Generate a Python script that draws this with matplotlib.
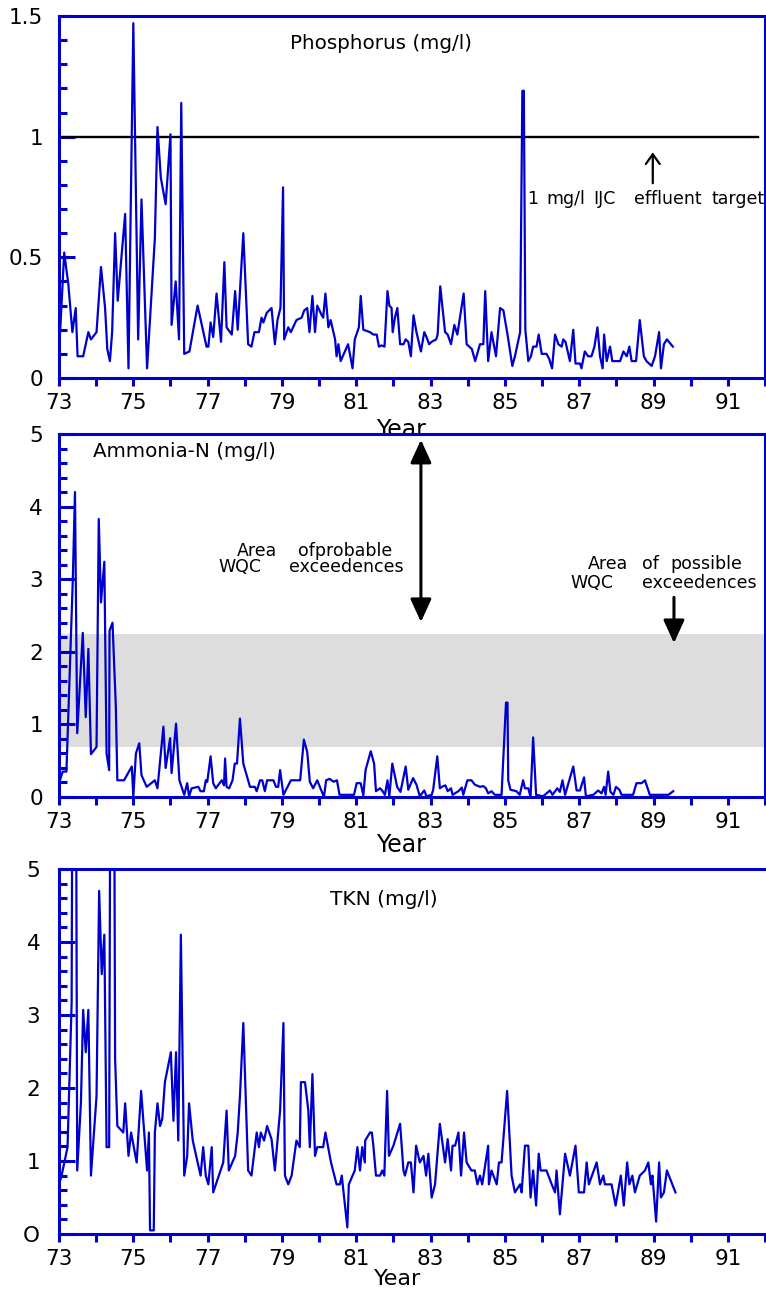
import matplotlib
matplotlib.use('Agg')
import matplotlib.pyplot as plt
from matplotlib.ticker import MultipleLocator
from matplotlib.transforms import Affine2D

plt.rcParams['font.family'] = ['DejaVu Sans']

# ---------------- data ----------------
x_ticks = list(range(73, 93))
x_ticklabels = [str(v) if v % 2 == 1 else '' for v in x_ticks]

p_year = [73.03, 73.14, 73.25, 73.36, 73.45, 73.50, 73.65, 73.79, 73.86, 74.01, 74.13, 74.24,
          74.30, 74.37, 74.43, 74.51, 74.58, 74.78, 74.87, 75.00, 75.13, 75.22, 75.37, 75.58,
          75.65, 75.74, 75.87, 76.00, 76.03, 76.14, 76.23, 76.29, 76.37, 76.51, 76.73, 76.97,
          77.02, 77.08, 77.15, 77.24, 77.36, 77.45, 77.51, 77.65, 77.74, 77.81, 77.96, 78.09,
          78.18, 78.26, 78.38, 78.45, 78.50, 78.59, 78.72, 78.81, 78.88, 78.96, 79.03, 79.06,
          79.17, 79.24, 79.39, 79.53, 79.60, 79.68, 79.74, 79.82, 79.89, 79.95, 80.07, 80.11,
          80.17, 80.25, 80.31, 80.43, 80.47, 80.52, 80.58, 80.78, 80.90, 80.96, 81.07, 81.12,
          81.19, 81.37, 81.46, 81.55, 81.61, 81.68, 81.76, 81.84, 81.89, 81.95, 81.98, 82.04,
          82.105, 82.18, 82.27, 82.33, 82.40, 82.47, 82.54, 82.62, 82.74, 82.83, 82.89, 82.96,
          83.03, 83.15, 83.19, 83.26, 83.39, 83.46, 83.55, 83.64, 83.72, 83.89, 83.97, 84.11,
          84.20, 84.33, 84.42, 84.47, 84.55, 84.64, 84.76, 84.87, 84.96, 85.07, 85.20, 85.27,
          85.41, 85.47, 85.51, 85.55, 85.63, 85.70, 85.76, 85.85, 85.91, 85.99, 86.12, 86.19,
          86.27, 86.35, 86.44, 86.53, 86.57, 86.63, 86.75, 86.84, 86.90, 87.02, 87.06, 87.15,
          87.24, 87.33, 87.41, 87.49, 87.56, 87.63, 87.67, 87.74, 87.83, 87.89, 88.10, 88.19,
          88.28, 88.35, 88.41, 88.53, 88.63, 88.74, 88.81, 88.95, 89.04, 89.15, 89.20, 89.28,
          89.36, 89.52]
p_val = [0.19, 0.52, 0.39, 0.19, 0.29, 0.09, 0.09, 0.19, 0.16, 0.19, 0.46, 0.29,
         0.12, 0.07, 0.19, 0.60, 0.32, 0.68, 0.04, 1.47, 0.16, 0.74, 0.04, 0.58,
         1.04, 0.83, 0.72, 1.01, 0.22, 0.40, 0.16, 1.14, 0.10, 0.11, 0.30, 0.13,
         0.13, 0.23, 0.17, 0.35, 0.15, 0.48, 0.21, 0.18, 0.36, 0.20, 0.60, 0.14,
         0.13, 0.19, 0.19, 0.25, 0.23, 0.27, 0.29, 0.14, 0.24, 0.29, 0.79, 0.16,
         0.21, 0.19, 0.24, 0.25, 0.28, 0.29, 0.19, 0.34, 0.19, 0.30, 0.26, 0.25,
         0.35, 0.21, 0.24, 0.16, 0.09, 0.14, 0.07, 0.14, 0.04, 0.16, 0.21, 0.34,
         0.20, 0.19, 0.18, 0.18, 0.13, 0.135, 0.13, 0.36, 0.30, 0.29, 0.19, 0.25,
         0.29, 0.14, 0.14, 0.16, 0.15, 0.09, 0.26, 0.19, 0.11, 0.19, 0.17, 0.14,
         0.15, 0.16, 0.18, 0.38, 0.19, 0.18, 0.14, 0.22, 0.18, 0.35, 0.14, 0.12,
         0.07, 0.14, 0.14, 0.36, 0.07, 0.19, 0.09, 0.29, 0.28, 0.18, 0.05, 0.09,
         0.19, 1.19, 1.19, 0.20, 0.07, 0.09, 0.13, 0.13, 0.18, 0.10, 0.10, 0.08,
         0.04, 0.18, 0.14, 0.13, 0.16, 0.15, 0.07, 0.20, 0.06, 0.06, 0.04, 0.11,
         0.09, 0.09, 0.13, 0.21, 0.09, 0.04, 0.18, 0.07, 0.13, 0.07, 0.07, 0.11,
         0.09, 0.13, 0.07, 0.07, 0.24, 0.09, 0.07, 0.05, 0.09, 0.19, 0.04, 0.14,
         0.16, 0.13]

nh3_year = [73.02, 73.10, 73.20, 73.37, 73.43, 73.49, 73.64, 73.72, 73.79, 73.86, 74.01, 74.07,
            74.13, 74.22, 74.28, 74.35, 74.36, 74.44, 74.53, 74.57, 74.75, 74.96, 75.00, 75.07,
            75.16, 75.22, 75.36, 75.58, 75.65, 75.81, 75.87, 75.99, 76.03, 76.15, 76.24, 76.37,
            76.45, 76.50, 76.57, 76.75, 76.81, 76.90, 76.95, 76.99, 77.08, 77.15, 77.22, 77.38,
            77.44, 77.47, 77.51, 77.58, 77.67, 77.73, 77.79, 77.87, 77.96, 78.14, 78.27, 78.32,
            78.41, 78.47, 78.54, 78.60, 78.77, 78.84, 78.90, 78.95, 79.04, 79.24, 79.49, 79.59,
            79.68, 79.75, 79.84, 79.95, 80.13, 80.19, 80.28, 80.39, 80.48, 80.55, 80.94, 81.01,
            81.12, 81.19, 81.25, 81.39, 81.48, 81.53, 81.64, 81.71, 81.77, 81.84, 81.89, 81.97,
            82.10, 82.19, 82.33, 82.40, 82.53, 82.62, 82.71, 82.83, 82.89, 83.03, 83.07, 83.18,
            83.25, 83.34, 83.40, 83.46, 83.55, 83.59, 83.75, 83.84, 83.88, 83.99, 84.10, 84.19,
            84.33, 84.42, 84.49, 84.55, 84.64, 84.73, 84.91, 85.03, 85.07, 85.09, 85.15, 85.31,
            85.40, 85.49, 85.54, 85.63, 85.69, 85.76, 85.84, 86.03, 86.21, 86.28, 86.41, 86.48,
            86.55, 86.62, 86.84, 86.93, 87.02, 87.13, 87.18, 87.38, 87.51, 87.60, 87.67, 87.71,
            87.78, 87.84, 87.92, 87.99, 88.08, 88.14, 88.45, 88.54, 88.68, 88.77, 88.90, 89.40,
            89.53]
nh3_val = [0.22, 0.35, 0.35, 2.97, 4.20, 0.88, 2.26, 1.10, 2.04, 0.59, 0.69, 3.83,
           2.68, 3.24, 0.60, 0.37, 2.29, 2.40, 1.24, 0.23, 0.23, 0.42, 0.01, 0.60,
           0.74, 0.30, 0.14, 0.23, 0.12, 0.97, 0.40, 0.81, 0.33, 1.01, 0.23, 0.03,
           0.19, 0.01, 0.12, 0.14, 0.08, 0.08, 0.23, 0.21, 0.56, 0.19, 0.12, 0.23,
           0.16, 0.53, 0.14, 0.12, 0.23, 0.46, 0.46, 1.08, 0.46, 0.14, 0.14, 0.08,
           0.23, 0.23, 0.08, 0.23, 0.23, 0.14, 0.14, 0.37, 0.03, 0.23, 0.23, 0.79,
           0.62, 0.21, 0.12, 0.23, 0.00, 0.23, 0.25, 0.21, 0.23, 0.03, 0.03, 0.19,
           0.19, 0.02, 0.37, 0.63, 0.46, 0.08, 0.12, 0.08, 0.03, 0.23, 0.01, 0.46,
           0.14, 0.07, 0.42, 0.10, 0.26, 0.17, 0.01, 0.09, 0.01, 0.03, 0.10, 0.56,
           0.12, 0.15, 0.16, 0.08, 0.12, 0.03, 0.08, 0.13, 0.03, 0.23, 0.23, 0.17,
           0.14, 0.15, 0.12, 0.05, 0.08, 0.03, 0.03, 1.30, 1.30, 0.23, 0.10, 0.08,
           0.03, 0.23, 0.12, 0.12, 0.00, 0.82, 0.03, 0.01, 0.09, 0.03, 0.12, 0.07,
           0.23, 0.03, 0.42, 0.09, 0.09, 0.27, 0.01, 0.03, 0.09, 0.05, 0.14, 0.03,
           0.35, 0.07, 0.03, 0.14, 0.10, 0.03, 0.03, 0.19, 0.19, 0.23, 0.03, 0.03,
           0.08]

tkn_year = [73.00, 73.07, 73.23, 73.34, 73.41, 73.49, 73.59, 73.65, 73.72, 73.79, 73.86, 74.01,
            74.08, 74.15, 74.22, 74.28, 74.35, 74.43, 74.51, 74.57, 74.73, 74.78, 74.87, 74.94,
            75.09, 75.21, 75.37, 75.42, 75.45, 75.55, 75.58, 75.65, 75.72, 75.78, 75.85, 76.01,
            76.08, 76.15, 76.21, 76.28, 76.37, 76.45, 76.50, 76.60, 76.81, 76.88, 76.95, 77.02,
            77.11, 77.15, 77.42, 77.51, 77.57, 77.74, 77.81, 77.87, 77.96, 78.09, 78.18, 78.32,
            78.38, 78.43, 78.52, 78.60, 78.72, 78.81, 78.95, 79.04, 79.08, 79.17, 79.26, 79.39,
            79.48, 79.51, 79.62, 79.71, 79.75, 79.82, 79.89, 79.95, 80.11, 80.17, 80.32, 80.47,
            80.56, 80.61, 80.76, 80.80, 80.96, 81.03, 81.10, 81.16, 81.23, 81.24, 81.37, 81.42,
            81.46, 81.53, 81.64, 81.70, 81.755, 81.83, 81.88, 82.00, 82.18, 82.27, 82.31, 82.40,
            82.47, 82.54, 82.61, 82.71, 82.81, 82.88, 82.94, 83.03, 83.12, 83.25, 83.39, 83.46,
            83.55, 83.59, 83.66, 83.75, 83.82, 83.90, 83.97, 84.10, 84.19, 84.26, 84.33, 84.39,
            84.48, 84.55, 84.57, 84.64, 84.78, 84.84, 84.91, 85.06, 85.18, 85.27, 85.41, 85.45,
            85.54, 85.63, 85.69, 85.76, 85.84, 85.91, 85.96, 86.12, 86.26, 86.35, 86.39, 86.48,
            86.62, 86.75, 86.90, 86.99, 87.13, 87.20, 87.26, 87.47, 87.56, 87.65, 87.69, 87.87,
            87.98, 88.12, 88.20, 88.29, 88.35, 88.43, 88.50, 88.63, 88.77, 88.86, 88.93, 88.97,
            89.07, 89.15, 89.20, 89.28, 89.36, 89.59]
tkn_val = [0.68, 0.80, 1.19, 3.17, 15.0, 0.87, 1.80, 3.07, 2.49, 3.07, 0.80, 1.89,
           4.70, 3.56, 4.10, 1.19, 1.19, 15.0, 2.40, 1.48, 1.39, 1.79, 1.07, 1.39,
           0.98, 1.96, 0.87, 1.39, 0.05, 0.05, 1.39, 1.79, 1.48, 1.58, 2.08, 2.49,
           1.55, 2.49, 1.28, 4.10, 0.80, 1.07, 1.79, 1.28, 0.80, 1.19, 0.80, 0.68,
           1.19, 0.57, 0.98, 1.69, 0.87, 1.07, 1.39, 1.89, 2.89, 0.87, 0.80, 1.39,
           1.19, 1.39, 1.28, 1.48, 1.30, 0.87, 1.69, 2.89, 0.80, 0.68, 0.80, 1.28,
           1.19, 2.08, 2.08, 1.69, 1.19, 2.19, 1.07, 1.19, 1.19, 1.39, 0.98, 0.68,
           0.68, 0.80, 0.09, 0.68, 0.87, 1.19, 0.87, 1.19, 0.98, 1.28, 1.39, 1.39,
           1.21, 0.80, 0.80, 0.87, 0.80, 1.96, 1.07, 1.21, 1.51, 0.87, 0.80, 0.98,
           0.98, 0.57, 1.21, 0.98, 1.07, 0.80, 1.10, 0.50, 0.68, 1.51, 0.98, 1.30,
           0.87, 1.21, 1.21, 1.39, 0.80, 1.39, 0.98, 0.87, 0.87, 0.68, 0.80, 0.68,
           0.98, 1.21, 0.68, 0.87, 0.68, 0.98, 0.98, 1.96, 0.80, 0.57, 0.68, 0.57,
           1.21, 1.21, 0.50, 0.87, 0.39, 1.10, 0.87, 0.87, 0.68, 0.57, 0.87, 0.27,
           1.10, 0.80, 1.21, 0.57, 0.57, 0.98, 0.68, 0.98, 0.68, 0.80, 0.68, 0.68,
           0.39, 0.80, 0.39, 0.98, 0.68, 0.80, 0.57, 0.80, 0.87, 0.98, 0.68, 0.80,
           0.17, 0.98, 0.50, 0.57, 0.87, 0.57]

ijc_target = 1.0
wqc_band = (0.69, 2.24)

# ---------------- figure ----------------
BLUE = '#0000CC'
W, H = 766, 1291
fig = plt.figure(figsize=(W / 100, H / 100), dpi=100)
pix = Affine2D().scale(1 / W, -1 / H).translate(0, 1) + fig.transFigure


def px_axes(left, top, right, bottom):
    return fig.add_axes([left / W, 1 - bottom / H, (right - left) / W, (bottom - top) / H])


def style(ax, ymax, major, labels, minor, ypad, show_right=True):
    ax.set_xlim(73, 92)
    ax.set_ylim(0, ymax)
    for name, s in ax.spines.items():
        s.set_color(BLUE)
        s.set_linewidth(2.2)
    if not show_right:
        ax.spines['right'].set_visible(False)
    ax.set_xticks(x_ticks)
    ax.set_xticklabels(x_ticklabels)
    ax.set_yticks(major)
    ax.set_yticklabels(labels)
    ax.yaxis.set_minor_locator(MultipleLocator(minor))
    ax.tick_params(axis='x', which='major', direction='out', length=6, width=2.2,
                   color=BLUE, labelsize=15.5, pad=5)
    ax.tick_params(axis='y', which='major', direction='in', length=11.5, width=2.2,
                   color=BLUE, labelsize=15.5, pad=ypad)
    ax.tick_params(axis='y', which='minor', direction='in', length=5.8, width=2.2,
                   color=BLUE)


def year_label(ax, xf, yf, size=17):
    ax.set_xlabel('Year', fontsize=size)
    ax.xaxis.set_label_coords(xf, yf)
    ax.xaxis.label.set_va('baseline')


# ---- Phosphorus ----
ax1 = px_axes(59, 16, 765, 378)
ax1.plot(p_year, p_val, color=BLUE, lw=1.6, zorder=3)
ax1.plot([73, 91.8], [ijc_target, ijc_target], color='black', lw=1.7, zorder=2)
style(ax1, 1.5, [0, 0.5, 1, 1.5], ['0', '0.5', '1', '1.5'], 0.1, 11.5)
year_label(ax1, 0.4844, -0.163)
ax1.annotate('', xy=(88.98, 0.935), xytext=(88.98, 0.807),
             arrowprops=dict(arrowstyle='->,head_length=0.35,head_width=0.25',
                             mutation_scale=20, lw=1.6, color='black',
                             shrinkA=0, shrinkB=0))
for s, x in [('1', 527), ('mg/l', 546), ('IJC', 593), ('effluent', 634), ('target', 711)]:
    fig.text(x, 204, s, transform=pix, fontsize=12.5, ha='left', va='baseline')
fig.text(290, 49, 'Phosphorus (mg/l)', transform=pix, fontsize=14.3,
         ha='left', va='baseline')

# ---- Ammonia ----
ax2 = px_axes(59, 434, 765, 797)
ax2.axhspan(wqc_band[0], wqc_band[1], color='#DDDDDD', lw=0, zorder=0)
ax2.plot(nh3_year, nh3_val, color=BLUE, lw=1.6, zorder=3)
style(ax2, 5, [0, 1, 2, 3, 4, 5], ['0', '1', '2', '3', '4', '5'], 0.2, 11.5)
year_label(ax2, 0.4844, -0.1515)
ax2.annotate('', xy=(82.74, 4.92), xytext=(82.74, 2.41),
             arrowprops=dict(arrowstyle='<|-|>,head_length=0.7,head_width=0.32',
                             mutation_scale=20, lw=2.2, color='black',
                             shrinkA=0, shrinkB=0))
ax2.annotate('', xy=(89.55, 2.12), xytext=(89.55, 2.75),
             arrowprops=dict(arrowstyle='-|>,head_length=0.7,head_width=0.32',
                             mutation_scale=20, lw=2.2, color='black',
                             shrinkA=0, shrinkB=0))
for s, x, y in [('Area', 237, 556), ('ofprobable', 298, 556),
                ('WQC', 218, 572), ('exceedences', 289, 572),
                ('Area', 588, 569), ('of', 642, 569), ('possible', 670, 569),
                ('WQC', 570, 588), ('exceedences', 642, 588)]:
    fig.text(x, y, s, transform=pix, fontsize=12.5, ha='left', va='baseline')
fig.text(93, 457, 'Ammonia-N (mg/l)', transform=pix, fontsize=14.3,
         ha='left', va='baseline')

# ---- TKN ----
ax3 = px_axes(59, 869, 765, 1234)
ax3.plot(tkn_year, tkn_val, color=BLUE, lw=1.6, zorder=3)
style(ax3, 5, [0, 1, 2, 3, 4, 5], ['O', '1', '2', '3', '4', '5'], 0.2, 13.5,
      show_right=False)
year_label(ax3, 0.480, -0.1397, size=16)
fig.text(330, 905, 'TKN (mg/l)', transform=pix, fontsize=14.5, ha='left', va='baseline')

fig.savefig('out.png', dpi=100)
